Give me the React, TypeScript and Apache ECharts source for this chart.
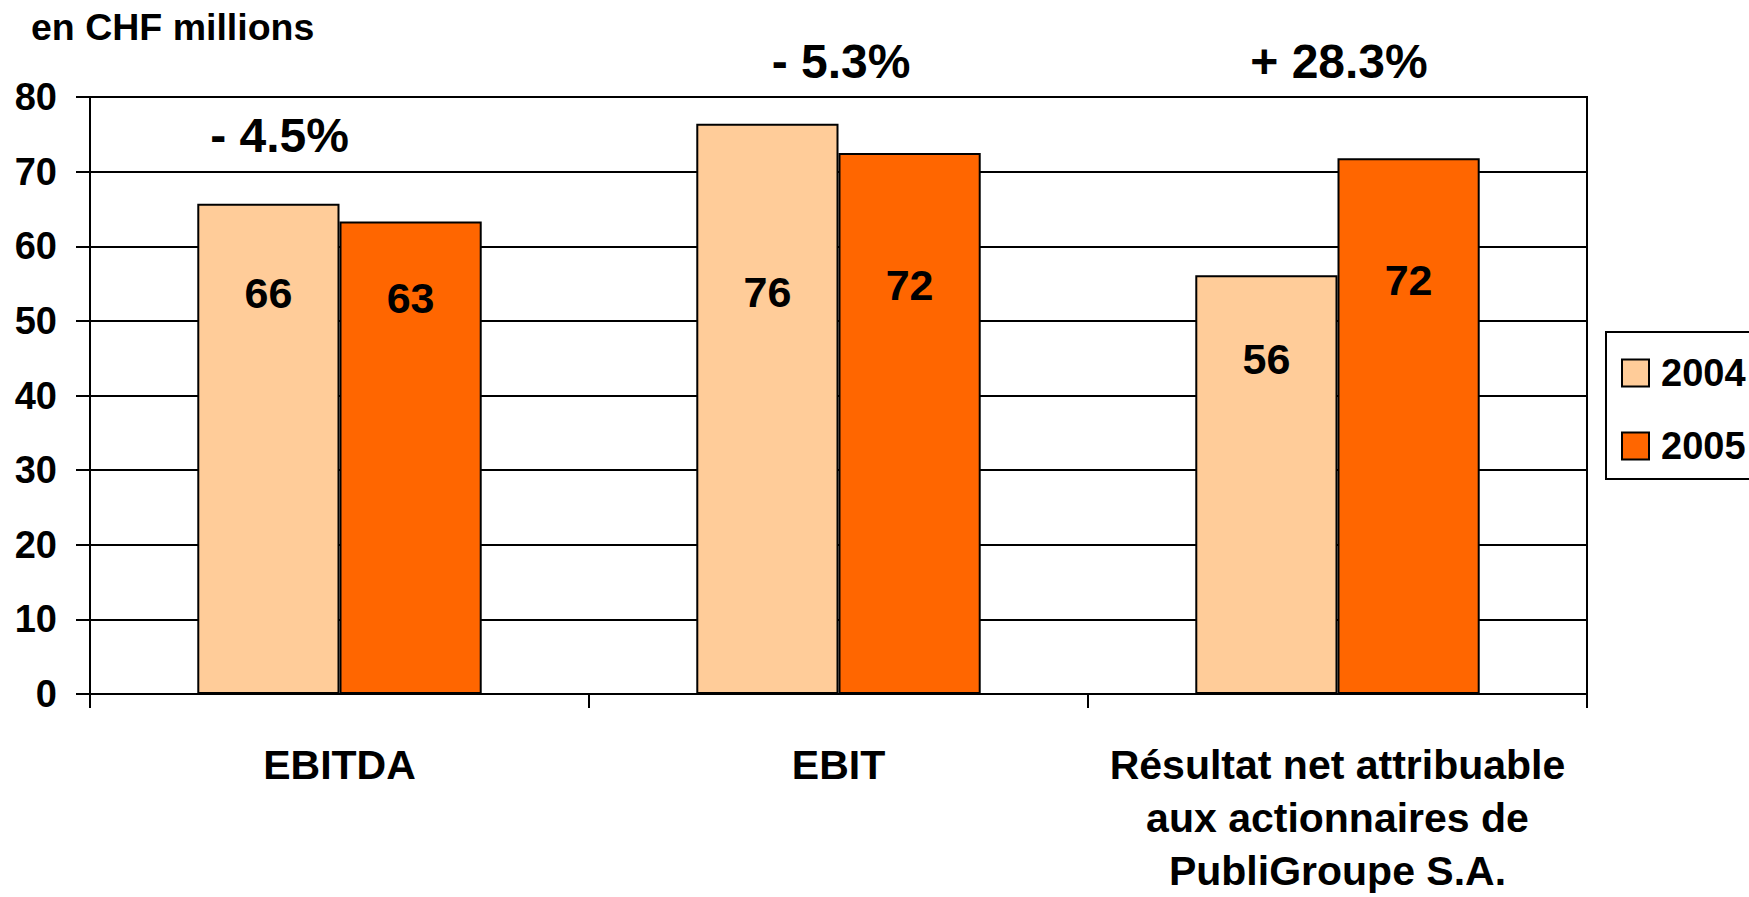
import React, { useEffect, useRef } from "react";
import * as echarts from "echarts";

const categories = [
  "EBITDA",
  "EBIT",
  "Résultat net attribuable\naux actionnaires de\nPubliGroupe S.A.",
];
const seriesNames = ["2004", "2005"];
const values2004 = [65.7, 76.4, 56.1];
const values2005 = [63.3, 72.5, 71.8];
const labels2004 = ["66", "76", "56"];
const labels2005 = ["63", "72", "72"];
// value (on the y scale) at which each bar's label is centred
const labelLevel2004 = [53.8, 53.9, 44.9];
const labelLevel2005 = [53.0, 54.8, 55.5];
// change annotations: [x position in category units, y value, text]
const changeX = [0.38, 1.505, 2.503];
const changeY = [74.9, 84.7, 84.7];
const changeText = ["- 4.5%", "- 5.3%", "+ 28.3%"];
const yTicks = { min: 0, max: 80, interval: 10 };

const FONT = "'Liberation Sans', Arial, sans-serif";
const COLORS = ["#FFCC99", "#FF6600"];

function barData(vals: number[], labels: string[], levels: number[]) {
  return vals.map((v, i) => ({
    value: v,
    label: {
      show: true,
      position: ["50%", `${((v - levels[i]) / v) * 100}%`],
      align: "center",
      verticalAlign: "middle",
      formatter: labels[i],
      fontSize: 43,
      fontWeight: "bold",
      fontFamily: FONT,
      color: "#000",
    },
  }));
}

export default function App() {
  const ref = useRef<HTMLDivElement>(null);
  useEffect(() => {
    document.body.style.margin = "0";
    const chart = echarts.init(ref.current!, null, { renderer: "svg" });
    chart.setOption({
      animation: false,
      backgroundColor: "#fff",
      title: {
        text: "en CHF millions",
        left: 31,
        top: 8,
        padding: 0,
        textStyle: { fontSize: 37.5, fontWeight: "bold", fontFamily: FONT, color: "#000" },
      },
      legend: {
        data: seriesNames,
        orient: "vertical",
        left: 1606,
        top: 332,
        padding: [22, 15, 14, 15],
        itemWidth: 27,
        itemHeight: 27,
        itemGap: 35,
        icon: "rect",
        borderColor: "#000",
        borderWidth: 2,
        selectedMode: false,
        textStyle: {
          fontSize: 38,
          fontWeight: "bold",
          fontFamily: FONT,
          color: "#000",
          lineHeight: 27,
          padding: [0, 0, 0, 7],
        },
      },
      grid: {
        left: 90,
        top: 97,
        width: 1497,
        height: 600,
        show: true,
        borderColor: "#000",
        borderWidth: 2,
        backgroundColor: "transparent",
      },
      xAxis: [
        {
          type: "category",
          data: categories,
          axisLine: { lineStyle: { color: "#000", width: 2 } },
          axisTick: { show: true, length: 14, lineStyle: { color: "#000", width: 2 } },
          axisLabel: {
            margin: 44,
            fontSize: 41,
            fontWeight: "bold",
            fontFamily: FONT,
            color: "#000",
            lineHeight: 53,
            interval: 0,
          },
        },
        {
          type: "value",
          min: 0,
          max: 3,
          show: false,
        },
      ],
      yAxis: {
        type: "value",
        min: yTicks.min,
        max: yTicks.max,
        interval: yTicks.interval,
        axisLine: { show: true, lineStyle: { color: "#000", width: 2 } },
        axisTick: { show: true, length: 14, lineStyle: { color: "#000", width: 2 } },
        splitLine: { show: true, lineStyle: { color: "#000", width: 2 } },
        axisLabel: {
          margin: 33,
          fontSize: 38,
          fontWeight: "bold",
          fontFamily: FONT,
          color: "#000",
        },
      },
      series: [
        {
          name: seriesNames[0],
          type: "bar",
          xAxisIndex: 0,
          barGap: "0%",
          barCategoryGap: "43%",
          itemStyle: { color: COLORS[0], borderColor: "#000", borderWidth: 2 },
          data: barData(values2004, labels2004, labelLevel2004),
        },
        {
          name: seriesNames[1],
          type: "bar",
          xAxisIndex: 0,
          barGap: "0%",
          barCategoryGap: "43%",
          itemStyle: { color: COLORS[1], borderColor: "#000", borderWidth: 2 },
          data: barData(values2005, labels2005, labelLevel2005),
        },
        {
          type: "scatter",
          xAxisIndex: 1,
          symbolSize: 0,
          clip: false,
          silent: true,
          itemStyle: { opacity: 1, color: "#000" },
          label: {
            show: true,
            position: "inside",
            align: "center",
            verticalAlign: "middle",
            fontSize: 48,
            fontWeight: "bold",
            fontFamily: FONT,
            color: "#000",
            opacity: 1,
            formatter: (p: any) => changeText[p.dataIndex],
          },
          data: changeX.map((x, i) => [x, changeY[i]]),
        },
      ],
    });
    return () => chart.dispose();
  }, []);
  return (
    <div
      ref={ref}
      style={{ position: "absolute", left: 0, top: 0, width: 1749, height: 897 }}
    />
  );
}
